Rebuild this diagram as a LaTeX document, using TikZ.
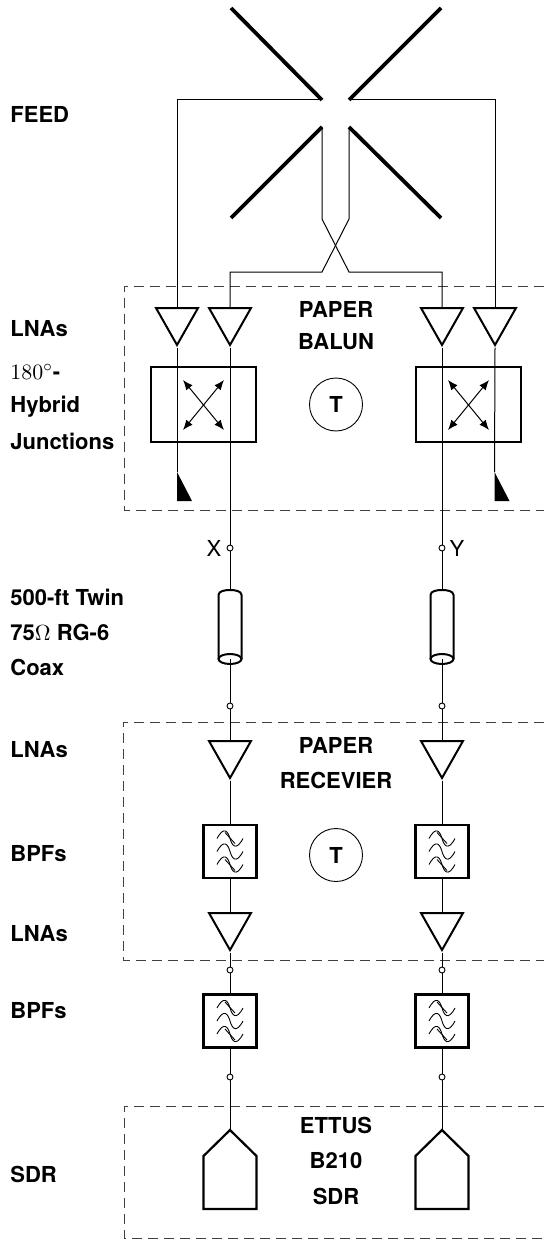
\documentclass[tikz,border=0pt]{standalone}
\usepackage{amsmath}
\usepackage{amssymb}
\usepackage{fontspec}
\setmainfont{TeX Gyre Heros}
\usetikzlibrary{arrows.meta}
\usetikzlibrary{shapes.geometric}

\newcommand{\lbl}{\fontsize{11}{13}\selectfont\bfseries}
\tikzset{
  wire/.style={line width=0.5pt},
  dipole/.style={line width=1.9pt},
  lna/.style={draw,isosceles triangle,isosceles triangle stretches,shape border rotate=270,
    minimum width=21pt,minimum height=18.5pt,inner sep=0pt,line width=1pt,anchor=lower side},
  hybrid/.style={draw,rectangle,minimum width=52.5pt,minimum height=37.5pt,line width=1pt},
  bpf/.style={draw,rectangle,minimum width=26.5pt,minimum height=26.5pt,line width=1.1pt},
  term/.style={draw,circle,minimum size=26.5pt,inner sep=0pt,line width=0.45pt,font=\lbl},
  tap/.style={draw,circle,minimum size=3pt,inner sep=0pt,fill=white,line width=0.45pt},
  sdr/.style={line width=1.1pt},
  rack/.style={line width=0.5pt,draw=black!75,dash pattern=on 5pt off 3pt},
  lab/.style={anchor=west,font=\lbl,inner sep=0pt},
  mid/.style={font=\lbl,inner sep=0pt},
  pics/waves/.style={code={
    \foreach \dy in {-13,0,13}
      \draw[line width=0.45pt] (-13,\dy) .. controls (-6,\dy-13) and (-2,\dy-7) .. (0,\dy)
        .. controls (2,\dy+7) and (6,\dy+13) .. (13,\dy);
    \draw[line width=0.45pt] (-5,-19) -- (5,-8);
    \draw[line width=0.45pt] (-5,8) -- (5,19);
  }},
  pics/coaxcan/.style={code={
    \draw[line width=1pt] (-11.5,69) -- (-11.5,5) .. controls (-11.5,1) and (-5,0) .. (0,0)
      .. controls (5,0) and (11.5,1) .. (11.5,5) -- (11.5,69);
    \draw[line width=1pt] (0,69) ellipse [x radius=11.5,y radius=5];
  }}
}

\begin{document}
\begin{tikzpicture}[x=0.5pt,y=-0.5pt]
  \useasboundingbox (0,0) rectangle (544,1241);

  % dashed enclosures
  \draw[rack] (544,286) -- (124,286) -- (124,510) -- (544,510);
  \draw[rack] (544,722) -- (123,722) -- (123,960) -- (544,960);
  \draw[rack] (544,1106) -- (124,1106) -- (124,1238) -- (544,1238);

  % feed
  \coordinate (F-1) at (322,100);
  \coordinate (F-2) at (349,100);
  \coordinate (F-3) at (322,127);
  \coordinate (F-4) at (349,127);
  \coordinate (D-1) at (231,8);
  \coordinate (D-2) at (441,8);
  \coordinate (D-3) at (231,218);
  \coordinate (D-4) at (441,218);
  \draw[dipole] (D-1) -- (F-1);
  \draw[dipole] (D-2) -- (F-2);
  \draw[dipole] (D-3) -- (F-3);
  \draw[dipole] (D-4) -- (F-4);

  % balun
  \node[lna] (L-1) at (177,307) {};
  \node[lna] (L-2) at (230,307) {};
  \node[lna] (L-3) at (442,307) {};
  \node[lna] (L-4) at (495,307) {};
  \node[hybrid] (H-1) at (203.5,404.5) {};
  \node[hybrid] (H-2) at (468,404.5) {};
  \node[term] (T-1) at (336,404.5) {T};
  \coordinate (R-1) at (177,472);
  \coordinate (R-2) at (494.5,472);

  % coax run
  \node[tap] (J-1) at (230,548) {};
  \node[tap] (J-2) at (442,548) {};
  \coordinate (C-1) at (230,590);
  \coordinate (C-2) at (442,590);
  \pic at (C-1) {coaxcan};
  \pic at (C-2) {coaxcan};
  \coordinate (C-1b) at (230,659);
  \coordinate (C-2b) at (442,659);
  \node[tap] (J-3) at (230,706) {};
  \node[tap] (J-4) at (442,706) {};

  % receiver
  \node[lna] (L-5) at (230,740) {};
  \node[lna] (L-6) at (442,740) {};
  \node[bpf] (B-1) at (230,851.5) {};
  \node[bpf] (B-2) at (442,851.5) {};
  \node[term] (T-2) at (336,855) {T};
  \node[lna] (L-7) at (230,912) {};
  \node[lna] (L-8) at (442,912) {};
  \node[tap] (J-5) at (230,970) {};
  \node[tap] (J-6) at (442,970) {};
  \node[bpf] (B-3) at (230,1021) {};
  \node[bpf] (B-4) at (442,1021) {};
  \node[tap] (J-7) at (230,1077) {};
  \node[tap] (J-8) at (442,1077) {};

  % sdr
  \coordinate (S-1) at (230,1130);
  \coordinate (S-2) at (442,1130);
  \draw[sdr] (S-1) -- ++(26.5,26) -- ++(0,53) -- ++(-53,0) -- ++(0,-53) -- cycle;
  \draw[sdr] (S-2) -- ++(26.5,26) -- ++(0,53) -- ++(-53,0) -- ++(0,-53) -- cycle;

  % connectors
  \draw[wire] (F-1) -| (L-1.lower side);
  \draw[wire] (F-2) -| (L-4.lower side);
  \draw[wire] (F-3) -- (322,219) -- (349,272) -- (442,272) -- (L-3.lower side);
  \draw[wire] (F-4) -- (349,219) -- (322,272) -- (230,272) -- (L-2.lower side);
  \draw[wire] (L-1.apex) -- (R-1);
  \draw[wire] (L-4.apex) -- (R-2);
  \draw[wire] (L-2.apex) -- (J-1);
  \draw[wire] (L-3.apex) -- (J-2);
  \draw[wire] (J-1) -- (C-1);
  \draw[wire] (J-2) -- (C-2);
  \draw[wire] (C-1b) -- (J-3);
  \draw[wire] (C-2b) -- (J-4);
  \draw[wire] (J-3) -- (L-5.lower side);
  \draw[wire] (J-4) -- (L-6.lower side);
  \draw[wire] (L-5.apex) -- (B-1);
  \draw[wire] (L-6.apex) -- (B-2);
  \draw[wire] (B-1) -- (L-7.lower side);
  \draw[wire] (B-2) -- (L-8.lower side);
  \draw[wire] (L-7.apex) -- (J-5);
  \draw[wire] (L-8.apex) -- (J-6);
  \draw[wire] (J-5) -- (B-3);
  \draw[wire] (J-6) -- (B-4);
  \draw[wire] (B-3) -- (J-7);
  \draw[wire] (B-4) -- (J-8);
  \draw[wire] (J-7) -- (S-1);
  \draw[wire] (J-8) -- (S-2);

  % hybrid arrows and loads
  \coordinate (A-1) at (183,380);
  \coordinate (A-2) at (224,430);
  \coordinate (A-3) at (224,380);
  \coordinate (A-4) at (183,430);
  \coordinate (A-5) at (448,380);
  \coordinate (A-6) at (489,430);
  \coordinate (A-7) at (489,380);
  \coordinate (A-8) at (448,430);
  \draw[wire,{Latex[length=5pt,width=4pt]}-{Latex[length=5pt,width=4pt]}] (A-1) -- (A-2);
  \draw[wire,{Latex[length=5pt,width=4pt]}-{Latex[length=5pt,width=4pt]}] (A-3) -- (A-4);
  \draw[wire,{Latex[length=5pt,width=4pt]}-{Latex[length=5pt,width=4pt]}] (A-5) -- (A-6);
  \draw[wire,{Latex[length=5pt,width=4pt]}-{Latex[length=5pt,width=4pt]}] (A-7) -- (A-8);
  \fill (R-1) -- ++(0,29) -- ++(15,0) -- cycle;
  \fill (R-2) -- ++(0,29) -- ++(15,0) -- cycle;

  % filter glyphs
  \pic at (B-1) {waves};
  \pic at (B-2) {waves};
  \pic at (B-3) {waves};
  \pic at (B-4) {waves};

  % labels
  \node[lab] (N-1) at (10,114) {FEED};
  \node[lab] (N-2) at (10,329) {LNAs};
  \node[lab] (N-3) at (10,372) {$180^\circ$-};
  \node[lab] (N-4) at (10,407) {Hybrid};
  \node[lab] (N-5) at (10,441) {Junctions};
  \node[lab] (N-6) at (10,597) {500-ft Twin};
  \node[lab] (N-7) at (10,632) {75$\Omega$ RG-6};
  \node[lab] (N-8) at (10,667) {Coax};
  \node[lab] (N-9) at (10,750) {LNAs};
  \node[lab] (N-10) at (10,854) {BPFs};
  \node[lab] (N-11) at (10,934) {LNAs};
  \node[lab] (N-12) at (10,1011) {BPFs};
  \node[lab] (N-13) at (10,1174) {SDR};
  \node[mid] (M-1) at (336,309) {PAPER};
  \node[mid] (M-2) at (336,342) {BALUN};
  \node[mid] (M-3) at (336,745) {PAPER};
  \node[mid] (M-4) at (336,780) {RECEVIER};
  \node[mid] (M-5) at (336,1125) {ETTUS};
  \node[mid] (M-6) at (336,1161) {B210};
  \node[mid] (M-7) at (336,1196) {SDR};
  \node[font=\fontsize{11}{13}\selectfont,inner sep=0pt] (X-1) at (214,548) {X};
  \node[font=\fontsize{11}{13}\selectfont,inner sep=0pt] (Y-1) at (457,548) {Y};
\end{tikzpicture}
\end{document}
